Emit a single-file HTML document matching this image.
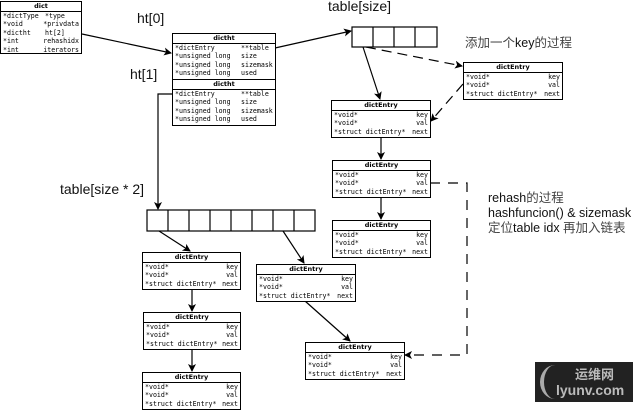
<!DOCTYPE html>
<html><head><meta charset="utf-8"><style>
body{margin:0;width:640px;height:409px;background:#fff;position:relative;overflow:hidden;font-family:"Liberation Sans","Noto Sans CJK SC",sans-serif}
.b{position:absolute;border:1.2px solid #000;background:#fff;box-sizing:border-box}
.h{height:9px;border-bottom:1.2px solid #000;font:bold 6.5px/9px "DejaVu Sans",sans-serif;text-align:center}
.r{font:6.6px/8.4px "DejaVu Sans Mono","Liberation Mono",monospace;padding-left:2px;white-space:pre;display:flex;justify-content:space-between;padding-right:2px}
.t{position:absolute;white-space:nowrap;color:#111}
svg{position:absolute;left:0;top:0}
</style></head><body>
<svg width="640" height="409">
<defs><marker id="a" markerWidth="8" markerHeight="8" refX="7" refY="4" orient="auto" markerUnits="userSpaceOnUse"><path d="M0,0 L8,4 L0,8 L2,4z" fill="#000"/></marker></defs>
<g stroke="#000" stroke-width="1.2" fill="none">
<line x1="82" y1="34" x2="171" y2="53" marker-end="url(#a)"/>
<line x1="275" y1="48" x2="351" y2="31" marker-end="url(#a)"/>
<polyline points="172,94 158,94 158,209" marker-end="url(#a)"/>
<line x1="363" y1="47" x2="380" y2="99" marker-end="url(#a)"/>
<line x1="366" y1="47" x2="462" y2="66" stroke-dasharray="10,6" marker-end="url(#a)"/>
<line x1="463" y1="84" x2="431" y2="121" stroke-dasharray="10,6" marker-end="url(#a)"/>
<line x1="381" y1="137" x2="381" y2="159" marker-end="url(#a)"/>
<line x1="381" y1="197" x2="381" y2="219" marker-end="url(#a)"/>
<polyline points="430,183 467,183 467,355 405,355" stroke-dasharray="10,8" marker-end="url(#a)"/>
<line x1="159" y1="231" x2="190" y2="251" marker-end="url(#a)"/>
<line x1="283" y1="231" x2="304" y2="263" marker-end="url(#a)"/>
<line x1="192" y1="290" x2="192" y2="311" marker-end="url(#a)"/>
<line x1="192" y1="350" x2="192" y2="371" marker-end="url(#a)"/>
<line x1="305" y1="301" x2="350" y2="341" marker-end="url(#a)"/>
</g>
<g stroke="#000" stroke-width="1.2" fill="#fff">
<rect x="352" y="27" width="85" height="20"/>
<line x1="373" y1="27" x2="373" y2="47"/><line x1="394" y1="27" x2="394" y2="47"/><line x1="415" y1="27" x2="415" y2="47"/>
<rect x="147" y="210" width="168" height="21"/>
<line x1="168" y1="210" x2="168" y2="231"/><line x1="189" y1="210" x2="189" y2="231"/><line x1="210" y1="210" x2="210" y2="231"/><line x1="231" y1="210" x2="231" y2="231"/><line x1="252" y1="210" x2="252" y2="231"/><line x1="273" y1="210" x2="273" y2="231"/><line x1="294" y1="210" x2="294" y2="231"/>
</g>
</svg>

<div class="b" style="left:0;top:1px;width:82px;height:53px"><div class="h">dict</div>
<div class="r" style="justify-content:flex-start"><span style="width:42px">*dictType</span>*type</div>
<div class="r" style="justify-content:flex-start"><span style="width:42px">*void</span>*privdata</div>
<div class="r" style="justify-content:flex-start"><span style="width:42px">*dictht</span>ht[2]</div>
<div class="r" style="justify-content:flex-start"><span style="width:42px">*int</span>rehashidx</div>
<div class="r" style="justify-content:flex-start"><span style="width:42px">*int</span>iterators</div></div>

<div class="b" style="left:172px;top:33px;width:104px;height:47px"><div class="h">dictht</div>
<div class="r" style="justify-content:flex-start"><span style="width:66px">*dictEntry</span>**table</div>
<div class="r" style="justify-content:flex-start"><span style="width:66px">*unsigned long</span>size</div>
<div class="r" style="justify-content:flex-start"><span style="width:66px">*unsigned long</span>sizemask</div>
<div class="r" style="justify-content:flex-start"><span style="width:66px">*unsigned long</span>used</div></div>
<div class="b" style="left:172px;top:79px;width:104px;height:47px"><div class="h">dictht</div>
<div class="r" style="justify-content:flex-start"><span style="width:66px">*dictEntry</span>**table</div>
<div class="r" style="justify-content:flex-start"><span style="width:66px">*unsigned long</span>size</div>
<div class="r" style="justify-content:flex-start"><span style="width:66px">*unsigned long</span>sizemask</div>
<div class="r" style="justify-content:flex-start"><span style="width:66px">*unsigned long</span>used</div></div>

<div class="b" style="left:463px;top:62px;width:100px;height:38px"><div class="h">dictEntry</div><div class="r"><span>*void*</span><span>key</span></div><div class="r"><span>*void*</span><span>val</span></div><div class="r"><span>*struct dictEntry*</span><span>next</span></div></div>
<div class="b" style="left:331px;top:100px;width:100px;height:38px"><div class="h">dictEntry</div><div class="r"><span>*void*</span><span>key</span></div><div class="r"><span>*void*</span><span>val</span></div><div class="r"><span>*struct dictEntry*</span><span>next</span></div></div>
<div class="b" style="left:332px;top:160px;width:99px;height:38px"><div class="h">dictEntry</div><div class="r"><span>*void*</span><span>key</span></div><div class="r"><span>*void*</span><span>val</span></div><div class="r"><span>*struct dictEntry*</span><span>next</span></div></div>
<div class="b" style="left:332px;top:220px;width:99px;height:38px"><div class="h">dictEntry</div><div class="r"><span>*void*</span><span>key</span></div><div class="r"><span>*void*</span><span>val</span></div><div class="r"><span>*struct dictEntry*</span><span>next</span></div></div>
<div class="b" style="left:142px;top:252px;width:99px;height:38px"><div class="h">dictEntry</div><div class="r"><span>*void*</span><span>key</span></div><div class="r"><span>*void*</span><span>val</span></div><div class="r"><span>*struct dictEntry*</span><span>next</span></div></div>
<div class="b" style="left:143px;top:312px;width:98px;height:38px"><div class="h">dictEntry</div><div class="r"><span>*void*</span><span>key</span></div><div class="r"><span>*void*</span><span>val</span></div><div class="r"><span>*struct dictEntry*</span><span>next</span></div></div>
<div class="b" style="left:142px;top:372px;width:99px;height:38px"><div class="h">dictEntry</div><div class="r"><span>*void*</span><span>key</span></div><div class="r"><span>*void*</span><span>val</span></div><div class="r"><span>*struct dictEntry*</span><span>next</span></div></div>
<div class="b" style="left:256px;top:264px;width:100px;height:38px"><div class="h">dictEntry</div><div class="r"><span>*void*</span><span>key</span></div><div class="r"><span>*void*</span><span>val</span></div><div class="r"><span>*struct dictEntry*</span><span>next</span></div></div>
<div class="b" style="left:305px;top:342px;width:100px;height:38px"><div class="h">dictEntry</div><div class="r"><span>*void*</span><span>key</span></div><div class="r"><span>*void*</span><span>val</span></div><div class="r"><span>*struct dictEntry*</span><span>next</span></div></div>

<div class="t" style="left:137px;top:10px;font-size:14px">ht[0]</div>
<div class="t" style="left:130px;top:66px;font-size:14px">ht[1]</div>
<div class="t" style="left:328px;top:-2px;font-size:14px">table[size]</div>
<div class="t" style="left:60px;top:181px;font-size:14px">table[size * 2]</div>
<div class="t" style="left:465px;top:32px;font-size:12.5px;color:#444">添加一个<span style="color:#111">key</span>的过程</div>
<div class="t" style="left:488px;top:191px;font-size:12.5px;line-height:15px">rehash<span style="color:#444">的过程</span><br>hashfuncion() &amp; sizemask<br><span style="color:#444">定位</span>table idx <span style="color:#444">再加入链表</span></div>

<div style="position:absolute;left:535px;top:362px;width:98px;height:40px;background:#222"></div>
<div style="position:absolute;left:540px;top:365px;width:30px;height:34px;border-radius:50%;border-left:4px solid #aaa;box-sizing:border-box"></div>
<div class="t" style="left:575px;top:364px;font-size:13px;color:#bbb;font-weight:bold">运维网</div>
<div class="t" style="left:556px;top:382px;font-size:14px;color:#bbb;font-weight:bold">lyunv.com</div>
</body></html>
